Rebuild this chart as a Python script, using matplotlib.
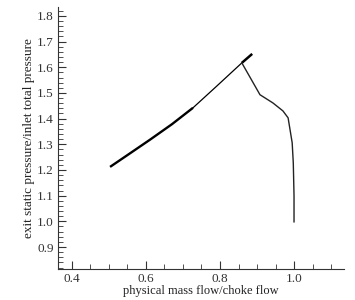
import matplotlib
matplotlib.use("Agg")
import matplotlib.pyplot as plt
from matplotlib.ticker import MultipleLocator

plt.rcParams["font.family"] = ["Liberation Serif", "DejaVu Serif"]

# ── data
x_low = [0.503, 0.55, 0.611, 0.67, 0.727]
y_low = [1.212, 1.258, 1.318, 1.378, 1.442]
x_mid = [0.727, 0.79, 0.859]
y_mid = [1.442, 1.525, 1.617]
x_top = [0.859, 0.887]
y_top = [1.617, 1.652]
x_stall = [0.859, 0.908, 0.943, 0.97, 0.984, 0.995, 0.998, 1.0, 1.0]
y_stall = [1.617, 1.493, 1.461, 1.43, 1.403, 1.306, 1.228, 1.1, 0.998]

x_ticks = [0.4, 0.6, 0.8, 1.0]
y_ticks = [0.9, 1.0, 1.1, 1.2, 1.3, 1.4, 1.5, 1.6, 1.7, 1.8]

fig = plt.figure(figsize=(3.55, 3.0), dpi=100)
ax = fig.add_axes([0.163, 0.103, 0.806, 0.874])

ax.plot(x_low, y_low, color="black", lw=1.7, solid_capstyle="butt")
ax.plot(x_mid, y_mid, color="black", lw=0.9)
ax.plot(x_top, y_top, color="black", lw=1.8, solid_capstyle="butt")
ax.plot(x_stall, y_stall, color="#222222", lw=1.0)

ax.set_xlim(0.362, 1.135)
ax.set_ylim(0.814, 1.835)
ax.set_xticks(x_ticks)
ax.set_xticklabels([f"{v:.1f}" for v in x_ticks])
ax.set_yticks(y_ticks)
ax.set_yticklabels([f"{v:.1f}" for v in y_ticks])
ax.xaxis.set_minor_locator(MultipleLocator(0.05))
ax.yaxis.set_minor_locator(MultipleLocator(0.02))

ax.tick_params(which="both", direction="in", labelsize=9.5, color="#333333",
               labelcolor="#333333")
ax.tick_params(which="major", length=6, width=0.8)
ax.tick_params(which="minor", length=3.5, width=0.6)
ax.tick_params(axis="x", pad=3)
ax.tick_params(axis="y", pad=3)

ax.spines[["top", "right"]].set_visible(False)
for s in ["left", "bottom"]:
    ax.spines[s].set_linewidth(0.8)
    ax.spines[s].set_color("#333333")

ax.set_xlabel("physical mass flow/choke flow", fontsize=9, labelpad=0, color="#222222")
ax.set_ylabel("exit static pressure/inlet total pressure", fontsize=9.5, labelpad=1,
              color="#222222")

fig.savefig("out.png", dpi=100, facecolor="white")
